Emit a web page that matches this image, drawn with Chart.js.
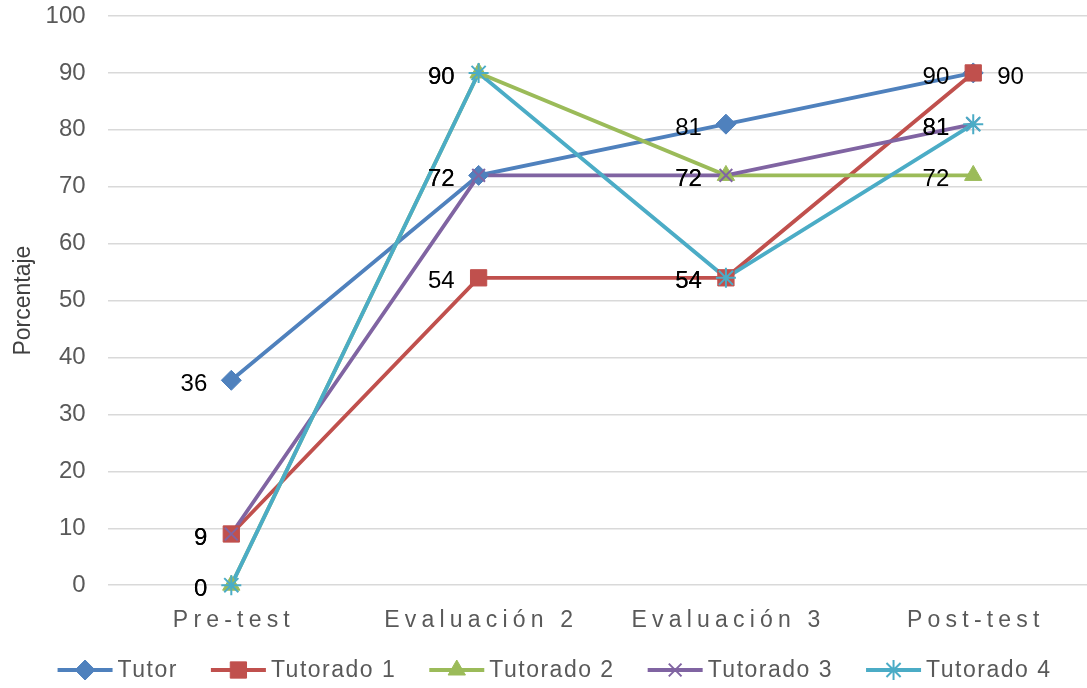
<!DOCTYPE html>
<html>
<head>
<meta charset="utf-8">
<script src="https://cdn.jsdelivr.net/npm/chart.js@4"></script>
<style>
  html, body { margin: 0; padding: 0; background: #fff; }
  #wrap { width: 1087px; height: 688px; position: relative; }
</style>
</head>
<body>
<div id="wrap"><canvas id="c"></canvas></div>
<script>
// Data
const categories = ['Pre-test', 'Evaluación 2', 'Evaluación 3', 'Post-test'];
const seriesNames = ['Tutor', 'Tutorado 1', 'Tutorado 2', 'Tutorado 3', 'Tutorado 4'];
const tutor = [36, 72, 81, 90];
const tutorado1 = [9, 54, 54, 90];
const tutorado2 = [0, 90, 72, 72];
const tutorado3 = [9, 72, 72, 81];
const tutorado4 = [0, 90, 54, 81];
const yTicks = [0, 10, 20, 30, 40, 50, 60, 70, 80, 90, 100];

const seriesValues = [tutor, tutorado1, tutorado2, tutorado3, tutorado4];
const colors = ['#4F81BD', '#C0504D', '#9BBB59', '#8064A2', '#4BACC6'];
const markers = ['rectRot', 'rect', 'triangle', 'crossRot', 'star'];
const markerRadius = [10, 11.5, 10, 9, 10];

// labels placed to the right of the point instead of the left (series index, point index)
const rightLabels = [[1, 3]];

const FONT = '"Liberation Sans", Arial, sans-serif';
const n = seriesValues.length;

// lines first (underneath), then markers on top of every line, later series above earlier ones
const lineSets = seriesValues.map((vals, i) => ({
    label: seriesNames[i],
    data: vals,
    borderColor: colors[i],
    borderWidth: 3.8,
    pointRadius: 0,
    pointHoverRadius: 0,
    tension: 0,
    clip: false,
    order: 2 * n - i,
}));
const pointSets = seriesValues.map((vals, i) => ({
    label: seriesNames[i] + ' markers',
    data: vals,
    showLine: false,
    borderColor: colors[i],
    backgroundColor: colors[i],
    pointStyle: markers[i],
    pointRadius: markerRadius[i],
    pointHoverRadius: markerRadius[i],
    pointBorderWidth: (markers[i] === 'crossRot' || markers[i] === 'star') ? 2 : 1,
    pointBorderColor: colors[i],
    pointBackgroundColor: colors[i],
    clip: false,
    order: n - i,
}));

const overlayPlugin = {
    id: 'overlay',
    afterDraw(chart) {
        const ctx = chart.ctx;
        const xs = chart.scales.x;
        const ys = chart.scales.y;
        const area = chart.chartArea;

        // letter-spaced category labels
        ctx.save();
        ctx.font = '23px ' + FONT;
        ctx.fillStyle = '#595959';
        ctx.textAlign = 'center';
        ctx.textBaseline = 'middle';
        ctx.letterSpacing = '5.2px';
        categories.forEach((c, i) => {
            ctx.fillText(c, xs.getPixelForValue(i) + 2.6, area.bottom + 35);
        });
        ctx.restore();

        // data labels
        ctx.save();
        ctx.font = '24px ' + FONT;
        ctx.fillStyle = '#000';
        ctx.textBaseline = 'middle';
        seriesValues.forEach((vals, si) => {
            vals.forEach((v, pi) => {
                const px = xs.getPixelForValue(pi);
                const py = ys.getPixelForValue(v);
                const right = rightLabels.some(r => r[0] === si && r[1] === pi);
                ctx.textAlign = right ? 'left' : 'right';
                ctx.fillText(String(v), right ? px + 24 : px - 24, py + 4);
            });
        });
        ctx.restore();

        // legend: line + marker, then text
        ctx.save();
        ctx.font = '23px ' + FONT;
        ctx.letterSpacing = '1.5px';
        const lineW = 55, gapText = 5, gapItem = 33;
        const widths = seriesNames.map(s => ctx.measureText(s).width);
        const total = widths.reduce((a, w) => a + lineW + gapText + w, 0) + gapItem * (n - 1);
        let x = (chart.width - total) / 2 + 11;
        const y = 670;
        seriesNames.forEach((s, i) => {
            ctx.strokeStyle = colors[i];
            ctx.lineWidth = 3.8;
            ctx.beginPath();
            ctx.moveTo(x, y);
            ctx.lineTo(x + lineW, y);
            ctx.stroke();
            ctx.fillStyle = colors[i];
            ctx.lineWidth = (markers[i] === 'crossRot' || markers[i] === 'star') ? 2 : 1;
            Chart.helpers.drawPoint(ctx, { pointStyle: markers[i], radius: markerRadius[i], rotation: 0, borderWidth: ctx.lineWidth }, x + lineW / 2, y);
            ctx.fillStyle = '#595959';
            ctx.textAlign = 'left';
            ctx.textBaseline = 'middle';
            ctx.fillText(s, x + lineW + gapText, y + 1);
            x += lineW + gapText + widths[i] + gapItem;
        });
        ctx.restore();
    }
};

new Chart(document.getElementById('c'), {
    type: 'line',
    data: { labels: categories, datasets: lineSets.concat(pointSets) },
    options: {
        responsive: true,
        maintainAspectRatio: false,
        animation: false,
        layout: { autoPadding: false, padding: { top: 16, right: 0, bottom: 32, left: 10 } },
        plugins: {
            legend: { display: false },
            tooltip: { enabled: false },
        },
        scales: {
            x: {
                offset: true,
                // plot runs past the right edge of the picture, as in the original
                afterFit: (scale) => { scale._startValue = -0.5; scale._valueRange = 3.96; },
                grid: { display: false, drawTicks: false },
                border: { display: false },
                ticks: { color: 'transparent', font: { family: FONT, size: 24 }, padding: 21 },
            },
            y: {
                min: 0,
                max: 100,
                afterBuildTicks: (scale) => { scale.ticks = yTicks.map(v => ({ value: v })); },
                afterFit: (scale) => { scale.paddingTop = 0; scale.paddingBottom = 0; },
                grid: { color: '#D9D9D9', lineWidth: 1.5, drawTicks: false },
                border: { display: false },
                ticks: {
                    color: '#595959',
                    font: { family: FONT, size: 24 },
                    padding: 22,
                },
                title: {
                    display: true,
                    text: 'Porcentaje',
                    color: '#404040',
                    font: { family: FONT, size: 23 },
                    padding: { top: 0, bottom: -14 },
                },
            },
        },
    },
    plugins: [overlayPlugin],
});
</script>
</body>
</html>
